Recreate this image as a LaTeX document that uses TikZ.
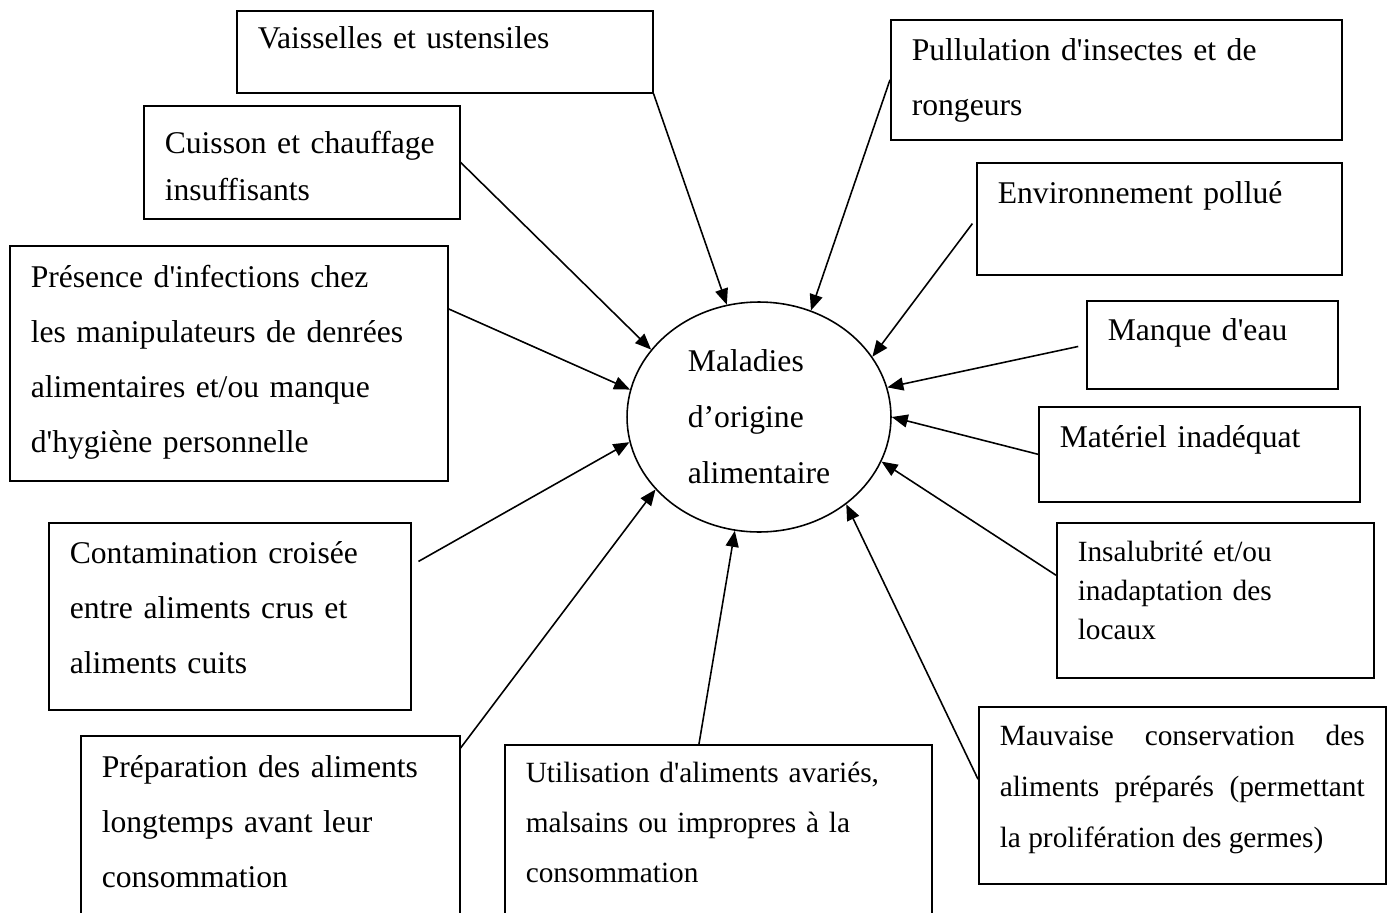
\documentclass[tikz,border=0pt]{standalone}
\usepackage{fontspec}
\setmainfont{Liberation Serif}[Ligatures={TeXOff,CommonOff}]
\usetikzlibrary{arrows.meta,shapes.geometric,calc}

\begin{document}
\begin{tikzpicture}[x=0.02cm, y=-0.02cm,
    cause/.style={draw, line width=0.9pt, anchor=north west, inner ysep=0pt, inner xsep=0.42cm, align=left},
    bigtxt/.style={font=\fontsize{18}{#1}\selectfont},
    bigtxt/.default=31.3,
    smalltxt/.style={font=\fontsize{16.7}{#1}\selectfont},
    pointer/.style={-{Triangle[length=0.32cm,width=0.26cm]}, line width=0.9pt}]
  \useasboundingbox (0,0) rectangle (1391,912);

  % Centre
  \node[draw, ellipse, line width=0.9pt, minimum width=5.28cm, minimum height=4.6cm, inner sep=0pt, align=left, bigtxt=31.9] (mal) at (759,417) {Maladies\\d’origine\\alimentaire};

  % Causes on the left
  \node[cause, bigtxt, text width=7.48cm, text height=0.76cm, text depth=0.88cm] (vais) at (236,10) {Vaisselles et ustensiles};
  \node[cause, bigtxt=26.7, text width=5.48cm, text height=0.96cm, text depth=1.30cm] (cuis) at (143,105) {Cuisson et chauffage\\insuffisants};
  \node[cause, bigtxt, text width=7.92cm, text height=0.84cm, text depth=3.86cm] (pres) at (9,245) {Présence d'infections chez\\les manipulateurs de denrées\\alimentaires et/ou manque\\d'hygiène personnelle};
  \node[cause, bigtxt, text width=6.40cm, text height=0.82cm, text depth=2.92cm] (cont) at (48,522) {Contamination croisée\\entre aliments crus et\\aliments cuits};
  \node[cause, bigtxt, text width=6.74cm, text height=0.84cm, text depth=3.16cm] (prep) at (80,735) {Préparation des aliments\\longtemps avant leur\\consommation};

  % Causes below and on the right
  \node[cause, smalltxt=28.5, text width=7.70cm, text height=0.76cm, text depth=2.96cm] (util) at (504,744) {Utilisation d'aliments avariés,\\malsains ou impropres à la\\consommation};
  \node[cause, smalltxt=29, align=justify, text width=7.30cm, text height=0.78cm, text depth=2.76cm] (mauv) at (978,706) {Mauvaise conservation des\linebreak aliments préparés (permettant\linebreak la prolifération des germes)};
  \node[cause, smalltxt=22.2, text width=5.50cm, text height=0.78cm, text depth=2.32cm] (insa) at (1056,522) {Insalubrité et/ou\\inadaptation des\\locaux};
  \node[cause, bigtxt, text width=5.58cm, text height=0.82cm, text depth=1.08cm] (mat) at (1038,406) {Matériel inadéquat};
  \node[cause, bigtxt, text width=4.18cm, text height=0.80cm, text depth=0.96cm] (manq) at (1086,300) {Manque d'eau};
  \node[cause, bigtxt, text width=6.46cm, text height=0.82cm, text depth=1.42cm] (envi) at (976,162) {Environnement pollué};
  \node[cause, bigtxt, text width=8.18cm, text height=0.82cm, text depth=1.58cm] (puls) at (890,19) {Pullulation d'insectes et de\\rongeurs};

  % Arrows
  \draw[pointer] (vais.south east) -- (mal.106);
  \draw[pointer] (cuis.east) -- (mal.148);
  \draw[pointer] ($(pres.north east)!0.27!(pres.south east)$) -- (mal.168);
  \draw[pointer, shorten <=0.16cm] ($(cont.north east)!0.23!(cont.south east)$) -- (mal.191);
  \draw[pointer] ($(prep.north east)!0.065!(prep.south east)$) -- (mal.215);
  \draw[pointer] ($(util.north west)!0.455!(util.north east)$) -- (mal.258);
  \draw[pointer] ($(mauv.north west)!0.41!(mauv.south west)$) -- (mal.315);
  \draw[pointer] ($(insa.north west)!0.34!(insa.south west)$) -- (mal.340);
  \draw[pointer] (mat.west) -- (mal.0);
  \draw[pointer, shorten <=0.16cm] (manq.west) -- (mal.13);
  \draw[pointer, shorten <=0.12cm] (envi.west) -- (mal.28);
  \draw[pointer] (puls.west) -- (mal.64);
\end{tikzpicture}
\end{document}
